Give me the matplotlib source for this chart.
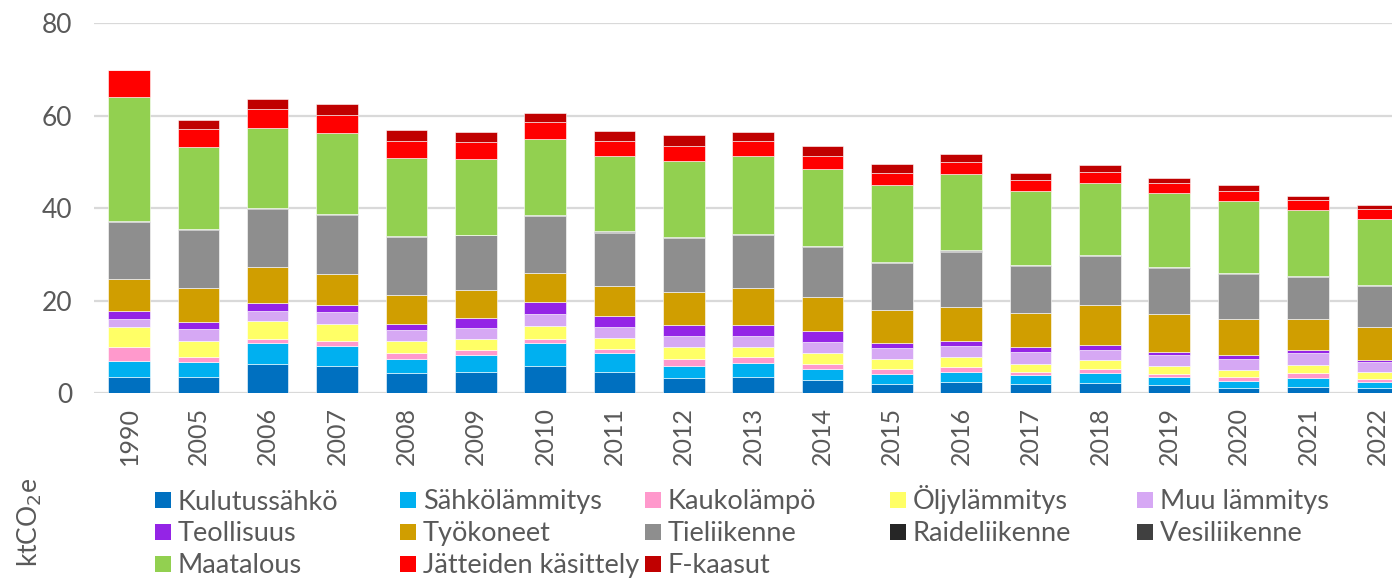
import matplotlib
matplotlib.use("Agg")
import matplotlib.pyplot as plt
from matplotlib.patches import Rectangle
import numpy as np

# Vuodet ja sektorikohtaiset päästöt (ktCO2e), luettu kuvasta
years = ["1990", "2005", "2006", "2007", "2008", "2009", "2010", "2011", "2012", "2013",
         "2014", "2015", "2016", "2017", "2018", "2019", "2020", "2021", "2022"]

kulutussahko = [3.6, 3.6, 6.4, 5.8, 4.3, 4.7, 6.0, 4.5, 3.2, 3.6, 2.8, 2.1, 2.4, 2.1, 2.3, 1.7, 1.2, 1.4, 1.2]
sahkolammitys = [3.45, 3.2, 4.5, 4.5, 3.2, 3.6, 4.9, 4.1, 2.6, 3.0, 2.5, 2.1, 2.2, 1.9, 2.1, 1.8, 1.5, 1.8, 1.3]
kaukolampo = [2.85, 1.1, 0.9, 1.0, 1.1, 1.0, 0.9, 1.0, 1.6, 1.3, 1.0, 1.1, 1.1, 0.5, 0.9, 0.7, 0.8, 1.1, 0.6]
oljylammitys = [4.5, 3.5, 3.8, 3.7, 2.6, 2.5, 2.7, 2.4, 2.5, 2.2, 2.3, 2.1, 2.1, 1.8, 1.8, 1.7, 1.6, 1.8, 1.4]
muu_lammitys = [1.6, 2.4, 2.2, 2.5, 2.5, 2.4, 2.6, 2.4, 2.5, 2.3, 2.4, 2.3, 2.4, 2.6, 2.3, 2.4, 2.4, 2.6, 2.3]
teollisuus = [1.8, 1.7, 1.8, 1.5, 1.3, 2.1, 2.7, 2.4, 2.3, 2.4, 2.4, 1.2, 1.0, 1.1, 1.1, 0.7, 0.8, 0.7, 0.4]
tyokoneet = [7.0, 7.2, 7.6, 6.7, 6.2, 6.0, 6.2, 6.4, 7.2, 7.9, 7.4, 7.0, 7.5, 7.3, 8.6, 8.2, 7.8, 6.6, 7.1]
tieliikenne = [12.2, 12.6, 12.7, 12.9, 12.5, 11.8, 12.3, 11.5, 11.6, 11.4, 10.9, 10.2, 11.9, 10.3, 10.5, 9.9, 9.7, 9.1, 8.8]
raideliikenne = [0.1] * 19
vesiliikenne = [0.1, 0.1, 0.1, 0.1, 0.2, 0.1, 0.1, 0.2, 0.1, 0.2, 0.1, 0.1, 0.2, 0.1, 0.1, 0.1, 0.1, 0.1, 0.2]
maatalous = [26.8, 17.7, 17.3, 17.5, 16.9, 16.3, 16.5, 16.2, 16.5, 16.9, 16.6, 16.7, 16.5, 16.0, 15.7, 16.0, 15.5, 14.2, 14.2]
jatteet = [5.9, 4.0, 4.0, 3.9, 3.7, 3.6, 3.6, 3.3, 3.3, 3.1, 2.7, 2.5, 2.6, 2.2, 2.3, 2.2, 2.2, 2.2, 2.3]
f_kaasut = [0.0, 1.8, 2.1, 2.2, 2.2, 2.2, 2.0, 2.2, 2.2, 2.0, 2.3, 2.0, 1.8, 1.7, 1.5, 1.1, 1.2, 1.0, 0.7]

sarjat = [
    ("Kulutussähkö", kulutussahko, "#0070C0"),
    ("Sähkölämmitys", sahkolammitys, "#00B0F0"),
    ("Kaukolämpö", kaukolampo, "#FF99CC"),
    ("Öljylämmitys", oljylammitys, "#FFFF66"),
    ("Muu lämmitys", muu_lammitys, "#D6A8F4"),
    ("Teollisuus", teollisuus, "#9424E6"),
    ("Työkoneet", tyokoneet, "#D09E00"),
    ("Tieliikenne", tieliikenne, "#8E8E8E"),
    ("Raideliikenne", raideliikenne, "#262626"),
    ("Vesiliikenne", vesiliikenne, "#404040"),
    ("Maatalous", maatalous, "#92D050"),
    ("Jätteiden käsittely", jatteet, "#FF0000"),
    ("F-kaasut", f_kaasut, "#C00000"),
]

plt.rcParams['font.family'] = ['Lato', 'DejaVu Sans']
harmaa = "#595959"
W, H = 1392, 578

fig = plt.figure(figsize=(13.92, 5.78), dpi=100)
ax = fig.add_axes([94.3 / W, 1 - 393.3 / H, (1412 - 94.3) / W, (393.3 - 23) / H])

x = np.arange(len(years))
pohja = np.zeros(len(years))
for nimi, arvot, vari in sarjat:
    ax.bar(x, arvot, 0.6, bottom=pohja, color=vari, label=nimi,
           edgecolor="white", linewidth=0.4, zorder=3)
    pohja += np.array(arvot)

ax.set_xlim(-0.5, len(years) - 0.5)
ax.set_ylim(0, 80)
ax.set_yticks([0, 20, 40, 60, 80])
ax.set_xticks(x)
ax.set_xticklabels(years, rotation=90)
ax.tick_params(axis='both', length=0, colors=harmaa)
ax.tick_params(axis='y', pad=16, labelsize=19)
ax.tick_params(axis='x', pad=10, labelsize=18)
ax.grid(axis='y', color="#D9D9D9", linewidth=1.6, zorder=0)
for s in ax.spines.values():
    s.set_visible(False)

fig.text(30 / W, 1 - 522 / H, "ktCO$_2$e", rotation=90, ha='center', va='center',
         fontsize=19, color=harmaa)

# legenda käsin: 5 saraketta, 3 riviä
sarake_x = [155, 400, 645, 890, 1137]
rivi_y = [500, 531.5, 563.5]
koko = 16
for i, (nimi, _, vari) in enumerate(sarjat):
    rivi, sarake = divmod(i, 5)
    mx, my = sarake_x[sarake], rivi_y[rivi]
    fig.add_artist(Rectangle((mx / W, 1 - (my + koko / 2) / H), koko / W, koko / H,
                             transform=fig.transFigure, color=vari, lw=0))
    fig.text((mx + 23) / W, 1 - (my + 9.5) / H, nimi, ha='left', va='baseline',
             fontsize=19.5, color=harmaa)

fig.savefig("out.png", dpi=100)
